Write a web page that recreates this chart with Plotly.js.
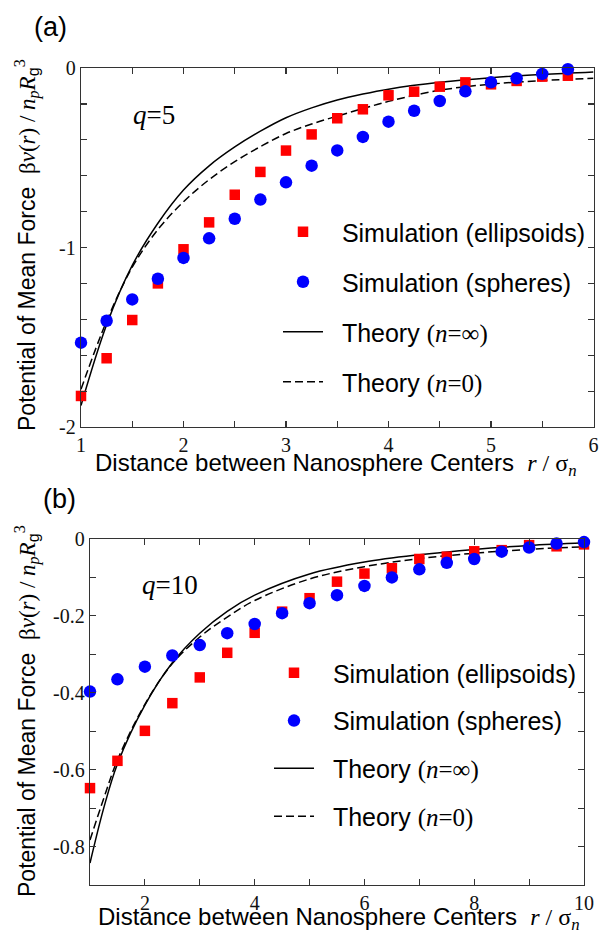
<!DOCTYPE html>
<html>
<head>
<meta charset="utf-8">
<script src="https://cdn.plot.ly/plotly-3.0.1.min.js"></script>
<style>html,body{margin:0;padding:0;background:#fff;}#chart{width:606px;height:933px;}</style>
</head>
<body>
<div id="chart"></div>
<script>
// ---------- Panel (a): q = 5 ----------
const xA_sim = [1, 1.25, 1.5, 1.75, 2, 2.25, 2.5, 2.75, 3, 3.25, 3.5, 3.75, 4, 4.25, 4.5, 4.75, 5, 5.25, 5.5, 5.75];
const yA_ellipsoids = [-1.827, -1.617, -1.404, -1.20, -1.01, -0.86, -0.706, -0.579, -0.46, -0.37, -0.28, -0.23, -0.152, -0.132, -0.104, -0.08, -0.091, -0.072, -0.048, -0.043];
const yA_spheres = [-1.53, -1.408, -1.289, -1.174, -1.058, -0.949, -0.84, -0.733, -0.637, -0.544, -0.459, -0.384, -0.299, -0.238, -0.184, -0.13, -0.08, -0.057, -0.033, -0.007];
const xA_theory = [1, 1.25, 1.5, 1.75, 2, 2.25, 2.5, 2.75, 3, 3.25, 3.5, 3.75, 4, 4.5, 5, 5.5, 6];
const yA_theoryInf = [-1.88, -1.43, -1.10, -0.865, -0.68, -0.545, -0.44, -0.352, -0.277, -0.222, -0.178, -0.145, -0.118, -0.08, -0.054, -0.036, -0.022];
const yA_theory0 = [-1.79, -1.41, -1.11, -0.90, -0.745, -0.622, -0.522, -0.438, -0.365, -0.312, -0.268, -0.226, -0.186, -0.124, -0.09, -0.07, -0.057];
const xA_tickvals = [1, 1.5, 2, 2.5, 3, 3.5, 4, 4.5, 5, 5.5, 6];
const xA_ticktext = ['1', '', '2', '', '3', '', '4', '', '5', '', '6'];
const yA_tickvals = [-2, -1.8, -1.6, -1.4, -1.2, -1, -0.8, -0.6, -0.4, -0.2, 0];
const yA_ticktext = ['-2', '', '', '', '', '-1', '', '', '', '', '0'];

// ---------- Panel (b): q = 10 ----------
const xB_sim = [1, 1.5, 2, 2.5, 3, 3.5, 4, 4.5, 5, 5.5, 6, 6.5, 7, 7.5, 8, 8.5, 9, 9.5, 10];
const yB_ellipsoids = [-0.648, -0.577, -0.499, -0.427, -0.36, -0.296, -0.244, -0.189, -0.154, -0.111, -0.09, -0.076, -0.052, -0.046, -0.032, -0.029, -0.016, -0.019, -0.014];
const yB_spheres = [-0.397, -0.365, -0.332, -0.303, -0.276, -0.245, -0.221, -0.193, -0.167, -0.146, -0.122, -0.10, -0.079, -0.062, -0.052, -0.033, -0.022, -0.012, -0.008];
const xB_theory = [1, 1.25, 1.5, 2, 2.5, 3, 3.5, 4, 5, 6, 7, 8, 9, 10];
const yB_theoryInf = [-0.843, -0.70, -0.585, -0.432, -0.322, -0.245, -0.188, -0.146, -0.091, -0.06, -0.041, -0.027, -0.017, -0.01];
const yB_theory0 = [-0.783, -0.675, -0.575, -0.43, -0.324, -0.255, -0.203, -0.16, -0.104, -0.072, -0.051, -0.037, -0.027, -0.02];
const xB_tickvals = [1, 2, 3, 4, 5, 6, 7, 8, 9, 10];
const xB_ticktext = ['', '2', '', '4', '', '6', '', '8', '', '10'];
const yB_tickvals = [-0.9, -0.8, -0.7, -0.6, -0.5, -0.4, -0.3, -0.2, -0.1, 0];
const yB_ticktext = ['', '-0.8', '', '-0.6', '', '-0.4', '', '-0.2', '', '0'];

// ---------- Labels ----------
const SERIF = "'Liberation Serif', 'Times New Roman', serif";
const SANS = "'Liberation Sans', Arial, sans-serif";
const sp = '\u00a0\u00a0';
const legendNames = [
  sp + 'Simulation (ellipsoids)',
  sp + 'Simulation (spheres)',
  sp + 'Theory <span style="font-family:' + SERIF + '">(<i>n</i>=\u221e)</span>',
  sp + 'Theory <span style="font-family:' + SERIF + '">(<i>n</i>=0)</span>'
];
const xTitle = 'Distance between Nanosphere Centers\u00a0\u00a0<span style="font-family:' + SERIF + '"><i>r</i> / \u03c3<sub><i>n</i></sub></span>';
const yTitle = 'Potential of Mean Force\u00a0\u00a0<span style="font-family:' + SERIF + '">\u03b2<i>v</i>(<i>r</i>) / <i>n</i><sub><i>p</i></sub><i>R</i></span><sub>g</sub><sup><span style="font-family:' + SERIF + '">3</span></sup>';

const W = 606, H = 933;
const px = v => v / W;
const py = v => 1 - v / H;

function panelTraces(xs, yE, yS, xt, yInf, y0, xa, ya, leg, grp) {
  return [
    {x: xt, y: yInf, mode: 'lines', name: legendNames[2], line: {color: '#000', width: 1.5, shape: 'spline', smoothing: 1},
     xaxis: xa, yaxis: ya, legend: leg, legendgroup: grp + '3', legendrank: 3, cliponaxis: false, hoverinfo: 'skip'},
    {x: xt, y: y0, mode: 'lines', name: legendNames[3], line: {color: '#000', width: 1.5, dash: '8px,4px', shape: 'spline', smoothing: 1},
     xaxis: xa, yaxis: ya, legend: leg, legendgroup: grp + '4', legendrank: 4, cliponaxis: false, hoverinfo: 'skip'},
    {x: xs, y: yE, mode: 'markers', name: legendNames[0], marker: {symbol: 'square', size: 10.5, color: '#ff0000', line: {width: 0}},
     xaxis: xa, yaxis: ya, legend: leg, legendgroup: grp + '1', legendrank: 1, cliponaxis: false},
    {x: xs, y: yS, mode: 'markers', name: legendNames[1], marker: {symbol: 'circle', size: 12.5, color: '#0000ff', line: {width: 0}},
     xaxis: xa, yaxis: ya, legend: leg, legendgroup: grp + '2', legendrank: 2, cliponaxis: false}
  ];
}

const data = [].concat(
  panelTraces(xA_sim, yA_ellipsoids, yA_spheres, xA_theory, yA_theoryInf, yA_theory0, 'x', 'y', 'legend', 'a'),
  panelTraces(xB_sim, yB_ellipsoids, yB_spheres, xB_theory, yB_theoryInf, yB_theory0, 'x2', 'y2', 'legend2', 'b')
);

const axisCommon = {
  showline: true, linecolor: '#333', linewidth: 1.3, mirror: 'ticks',
  ticks: 'inside', ticklen: 6, tickwidth: 1.2, tickcolor: '#333',
  showgrid: false, zeroline: false, automargin: false,
  tickfont: {family: SERIF, size: 20, color: '#111'}, tickmode: 'array'
};

const legendCommon = {
  font: {family: SANS, size: 25, color: '#000'}, bgcolor: 'rgba(0,0,0,0)', borderwidth: 0,
  xanchor: 'left', yanchor: 'top', traceorder: 'grouped', itemwidth: 40, itemsizing: 'trace'
};

const layout = {
  width: W, height: H,
  margin: {l: 0, r: 0, t: 0, b: 0},
  paper_bgcolor: '#fff', plot_bgcolor: '#fff',
  showlegend: true,
  xaxis: Object.assign({}, axisCommon, {domain: [px(81), px(593.5)], range: [1, 6], anchor: 'y', tickvals: xA_tickvals, ticktext: xA_ticktext}),
  yaxis: Object.assign({}, axisCommon, {domain: [py(427), py(68)], range: [-2, 0], anchor: 'x', tickvals: yA_tickvals, ticktext: yA_ticktext}),
  xaxis2: Object.assign({}, axisCommon, {domain: [px(90), px(584)], range: [1, 10], anchor: 'y2', tickvals: xB_tickvals, ticktext: xB_ticktext}),
  yaxis2: Object.assign({}, axisCommon, {domain: [py(885), py(539)], range: [-0.9, 0], anchor: 'x2', tickvals: yB_tickvals, ticktext: yB_ticktext}),
  legend: Object.assign({}, legendCommon, {x: px(278), y: py(209), tracegroupgap: 14.5}),
  legend2: Object.assign({}, legendCommon, {x: px(269), y: py(650), tracegroupgap: 12.3}),
  annotations: [
    {text: '(a)', xref: 'paper', yref: 'paper', x: px(50), y: py(27), showarrow: false, xanchor: 'center', yanchor: 'middle', font: {family: SANS, size: 27, color: '#000'}},
    {text: '(b)', xref: 'paper', yref: 'paper', x: px(59), y: py(499), showarrow: false, xanchor: 'center', yanchor: 'middle', font: {family: SANS, size: 27, color: '#000'}},
    {text: '<i>q</i>=5', xref: 'paper', yref: 'paper', x: px(154), y: py(115), showarrow: false, xanchor: 'center', yanchor: 'middle', font: {family: SERIF, size: 27, color: '#000'}},
    {text: '<i>q</i>=10', xref: 'paper', yref: 'paper', x: px(170), y: py(585), showarrow: false, xanchor: 'center', yanchor: 'middle', font: {family: SERIF, size: 27, color: '#000'}},
    {text: xTitle, xref: 'paper', yref: 'paper', x: px(336), y: py(464), showarrow: false, xanchor: 'center', yanchor: 'middle', font: {family: SANS, size: 24, color: '#000'}},
    {text: xTitle, xref: 'paper', yref: 'paper', x: px(339), y: py(918), showarrow: false, xanchor: 'center', yanchor: 'middle', font: {family: SANS, size: 24, color: '#000'}},
    {text: yTitle, xref: 'paper', yref: 'paper', x: px(27), y: py(245), showarrow: false, textangle: -90, xanchor: 'center', yanchor: 'middle', font: {family: SANS, size: 23, color: '#000'}},
    {text: yTitle, xref: 'paper', yref: 'paper', x: px(27), y: py(711), showarrow: false, textangle: -90, xanchor: 'center', yanchor: 'middle', font: {family: SANS, size: 23, color: '#000'}}
  ]
};

Plotly.newPlot('chart', data, layout, {staticPlot: true, displayModeBar: false});
</script>
</body>
</html>
